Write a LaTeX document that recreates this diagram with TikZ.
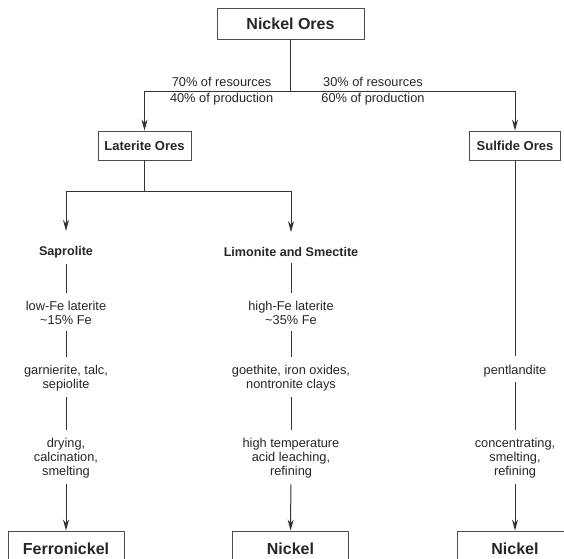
\documentclass[tikz,border=0pt]{standalone}
\usepackage{fontspec}
\setmainfont{Liberation Sans}
\usetikzlibrary{arrows.meta}
\begin{document}
\begin{tikzpicture}[x=1pt,y=-1pt,
    every node/.style={text=black!85},
    topbox/.style={draw=black!70, line width=0.9pt, inner sep=0pt, minimum width=147pt, minimum height=31pt, font=\fontsize{16}{18}\selectfont\bfseries},
    orebox/.style={draw=black!70, line width=0.9pt, inner sep=0pt, minimum height=29pt, font=\fontsize{13}{15}\selectfont\bfseries},
    endbox/.style={draw=black!70, line width=0.9pt, inner sep=0pt, minimum width=116pt, minimum height=35pt, font=\fontsize{16}{18}\selectfont\bfseries},
    headtext/.style={inner sep=0pt, font=\fontsize{12.6}{14.2}\selectfont\bfseries},
    steptext/.style={inner sep=0pt, align=center, font=\fontsize{12.8}{14.2}\selectfont},
    link/.style={draw=black!80, line width=1pt},
    gap/.style={link, shorten <=6pt, shorten >=8pt},
    arrow/.style={link, -{Stealth[length=11pt,width=6pt,inset=3.5pt]}}
]
    \useasboundingbox (0,0) rectangle (564,558);
    \clip (0,0) rectangle (564,558);

    % --- TOP (ore types) ---
    \node[topbox] (ores) at (290.5,23.5) {Nickel Ores};
    \coordinate (fork) at (290.5,91);
    \node[orebox, minimum width=93pt] (laterite) at (144.5,145.5) {Laterite Ores};
    \node[orebox, minimum width=91pt] (sulfide) at (515,145.5) {Sulfide Ores};
    \node[steptext] (res70) at (221.6,82) {70\% of resources};
    \node[steptext] (prod40) at (221.6,99) {40\% of production};
    \node[steptext] (res30) at (373,82) {30\% of resources};
    \node[steptext] (prod60) at (373,99) {60\% of production};
    \draw[link] (ores) -- (fork);
    \draw[arrow] (fork) -| (laterite);
    \draw[arrow] (fork) -| (sulfide);

    % --- LEFT BRANCH (Saprolite) ---
    \coordinate (latfork) at (144.5,191.5);
    \node[headtext] (saprolite) at (66,252) {Saprolite};
    \node[steptext] (lowfe) at (66,313) {low-Fe laterite\\\textasciitilde15\% Fe};
    \node[steptext] (garnierite) at (66,378) {garnierite, talc,\\sepiolite};
    \node[steptext] (drying) at (66,458) {drying,\\calcination,\\smelting};
    \node[endbox] (ferro) at (66,548.5) {Ferronickel};
    \draw[link] (laterite) -- (latfork);
    \draw[arrow, shorten >=15pt] (latfork) -| (saprolite);
    \draw[gap] (saprolite) -- (lowfe);
    \draw[gap] (lowfe) -- (garnierite);
    \draw[gap] (garnierite) -- (drying);
    \draw[arrow, shorten <=6pt] (drying) -- (ferro);

    % --- MIDDLE BRANCH (Limonite) ---
    \node[headtext] (limonite) at (291,252) {Limonite and Smectite};
    \node[steptext] (highfe) at (291,313) {high-Fe laterite\\\textasciitilde35\% Fe};
    \node[steptext] (goethite) at (291,378) {goethite, iron oxides,\\nontronite clays};
    \node[steptext] (leaching) at (291,458) {high temperature\\acid leaching,\\refining};
    \node[endbox] (nickelmid) at (290.5,548.5) {Nickel};
    \draw[arrow, shorten >=15pt] (latfork) -| (limonite);
    \draw[gap] (limonite) -- (highfe);
    \draw[gap] (highfe) -- (goethite);
    \draw[gap] (goethite) -- (leaching);
    \draw[arrow, shorten <=6pt] (leaching) -- (nickelmid);

    % --- RIGHT BRANCH (Sulfide) ---
    \node[steptext] (pentlandite) at (515,371) {pentlandite};
    \node[steptext] (concentrating) at (515,458) {concentrating,\\smelting,\\refining};
    \node[endbox] (nickelright) at (515,548.5) {Nickel};
    \draw[link, shorten >=9pt] (sulfide) -- (pentlandite);
    \draw[link, shorten <=5pt, shorten >=8pt] (pentlandite) -- (concentrating);
    \draw[arrow, shorten <=6pt] (concentrating) -- (nickelright);
\end{tikzpicture}
\end{document}
